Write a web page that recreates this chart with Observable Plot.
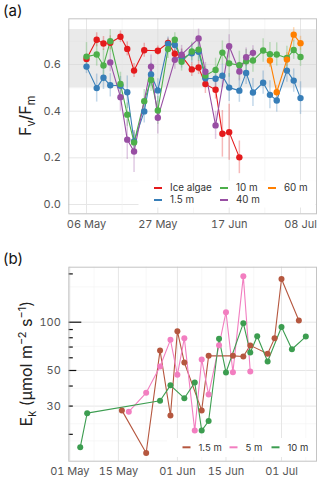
<!DOCTYPE html>
<html><head><meta charset="utf-8">
<script src="https://cdn.jsdelivr.net/npm/d3@7"></script>
<script src="https://cdn.jsdelivr.net/npm/@observablehq/plot@0.6"></script>
<style>
body{margin:0;background:#fff;font-family:Inter,"DejaVu Sans",sans-serif;}
#wrap{position:relative;width:320px;height:482px;overflow:hidden;background:#fff}
#pa,#pb{position:absolute;left:0}
#pa{top:0}#pb{top:240px}
.lab{position:absolute;left:3px;font-size:15px;color:#111;font-family:Inter,sans-serif}
</style></head><body>
<div id="wrap"><div id="pa"></div><div id="pb"></div>
<div class="lab" style="top:1px">(a)</div><div class="lab" style="top:249px">(b)</div></div>
<script>
// ---------- Panel (a): Fv/Fm ----------
const seriesA = ["Ice algae", "1.5 m", "10 m", "40 m", "60 m"];
const colorsA = ["#E41A1C", "#377EB8", "#4DAF4A", "#984EA3", "#FF7F00"];

const iceDates = ["2018-05-06","2018-05-09","2018-05-11","2018-05-13","2018-05-16","2018-05-18","2018-05-20","2018-05-23","2018-05-27","2018-05-30","2018-06-01","2018-06-03","2018-06-06","2018-06-08","2018-06-10","2018-06-13","2018-06-15","2018-06-17","2018-06-20"];
const iceFv = [0.624,0.706,0.690,0.693,0.719,0.667,0.574,0.661,0.659,0.693,0.646,0.637,0.579,0.587,0.516,0.492,0.303,0.310,0.202];
const iceErr = [0.02,0.03,0.03,0.03,0.025,0.03,0.03,0.03,0.02,0.02,0.03,0.03,0.03,0.03,0.04,0.04,0.10,0.12,0.07];

const m15Dates = ["2018-05-06","2018-05-09","2018-05-11","2018-05-13","2018-05-16","2018-05-18","2018-05-20","2018-05-23","2018-05-25","2018-05-27","2018-05-30","2018-06-01","2018-06-03","2018-06-06","2018-06-08","2018-06-10","2018-06-13","2018-06-15","2018-06-17","2018-06-20","2018-06-22","2018-06-24","2018-06-27","2018-06-29","2018-07-01","2018-07-04","2018-07-06","2018-07-08"];
const m15Fv = [0.591,0.499,0.543,0.511,0.509,0.481,0.270,0.399,0.557,0.489,0.688,0.684,0.625,0.648,0.655,0.541,0.539,0.552,0.501,0.488,0.564,0.480,0.522,0.470,0.446,0.574,0.531,0.456];
const m15Err = [0.03,0.06,0.05,0.05,0.04,0.07,0.04,0.05,0.05,0.05,0.03,0.03,0.04,0.04,0.04,0.04,0.05,0.05,0.06,0.05,0.05,0.06,0.05,0.06,0.05,0.05,0.05,0.07];

const m10Dates = m15Dates;
const m10Fv = [0.634,0.643,0.596,0.700,0.517,0.385,0.266,0.443,0.534,0.403,0.666,0.706,0.612,0.656,0.664,0.553,0.577,0.651,0.605,0.597,0.614,0.617,0.660,0.644,0.643,0.628,0.662,0.632];
const m10Err = [0.06,0.05,0.07,0.05,0.05,0.05,0.05,0.05,0.05,0.06,0.04,0.03,0.04,0.04,0.05,0.04,0.05,0.05,0.06,0.06,0.05,0.05,0.05,0.05,0.05,0.05,0.04,0.04];

const m40Dates = ["2018-05-13","2018-05-16","2018-05-18","2018-05-20","2018-05-25","2018-05-27","2018-06-01","2018-06-03","2018-06-08","2018-06-10","2018-06-13","2018-06-17","2018-06-20","2018-06-22","2018-06-24"];
const m40Fv = [0.609,0.460,0.278,0.227,0.591,0.372,0.620,0.642,0.712,0.569,0.339,0.678,0.570,0.631,0.650];
const m40Err = [0.04,0.06,0.085,0.09,0.05,0.07,0.04,0.04,0.04,0.04,0.06,0.05,0.04,0.04,0.03];

const m60Dates = ["2018-06-29","2018-07-01","2018-07-04","2018-07-06","2018-07-08"];
const m60Fv = [0.617,0.481,0.621,0.728,0.691];
const m60Err = [0.03,0.03,0.03,0.03,0.03];

const xTicksA = ["2018-05-06","2018-05-27","2018-06-17","2018-07-08"];
const xMinorA = ["2018-05-16T12:00Z","2018-06-06T12:00Z","2018-06-27T12:00Z"];
const yTicksA = [0.0, 0.2, 0.4, 0.6];
const yMinorA = [0.1, 0.3, 0.5, 0.7];
const bandA = [0.5, 0.75];
const xDomainA = ["2018-04-30T19:00Z", "2018-07-12T17:00Z"];
const yDomainA = [-0.04, 0.796];

// ---------- Panel (b): Ek ----------
const seriesB = ["1.5 m", "5 m", "10 m"];
const colorsB = ["#b5573f", "#f27ec0", "#3c9d50"];
const ek15Dates = ["2018-05-16","2018-05-23","2018-05-27","2018-05-30","2018-06-01","2018-06-03","2018-06-08","2018-06-10","2018-06-17","2018-06-20","2018-06-22","2018-06-27","2018-06-29","2018-07-01","2018-07-06"];
const ek15 = [28.2,15.3,66.7,26.2,87.9,56.1,28.2,61.7,61.7,61.1,71.7,63.6,79.3,186,102.5];
const ek5Dates = ["2018-05-18","2018-05-23","2018-05-27","2018-05-30","2018-06-01","2018-06-03","2018-06-06","2018-06-08","2018-06-10","2018-06-13","2018-06-15","2018-06-17","2018-06-20","2018-06-22"];
const ek5 = [27.7,36.3,52.9,77.6,47.0,79.5,21.1,58.6,35.4,71.8,115.4,48.8,193.6,49.3];
const ek10Dates = ["2018-05-04","2018-05-06","2018-05-27","2018-05-30","2018-06-03","2018-06-06","2018-06-08","2018-06-10","2018-06-13","2018-06-15","2018-06-20","2018-06-22","2018-06-24","2018-06-27","2018-07-01","2018-07-04","2018-07-08"];
const ek10 = [16.6,27.1,32.4,40.4,33.6,42.1,21.1,24.2,78.8,48.6,98.6,64.7,81.8,56.9,93.4,67.8,81.3];

const xTicksB = ["2018-05-01","2018-05-15","2018-06-01","2018-06-15","2018-07-01"];
const xMinorB = ["2018-05-08","2018-05-23","2018-06-08","2018-06-23","2018-07-08"];
const yTicksB = [30, 50, 100];
const yMinorB = [18.2, 23.3, 38.7, 70.7, 166];
const logShortB = [20, 30, 40, 60, 70, 80, 90, 200];
const logMidB = [50];
const logLongB = [100];
const xDomainB = ["2018-04-30T17:00Z", "2018-07-11T02:00Z"];
const yDomainB = [13.6, 220.2];

// ---------- build ----------
const FONT = "Inter, 'DejaVu Sans', sans-serif";
const parse = s => new Date(s.length === 10 ? s + "T00:00Z" : s);
const rows = (series, dates, vals, errs) => dates.map((d, i) => ({series, date: parse(d), v: vals[i], e: errs ? errs[i] : 0}));

const dataA = [
  ...rows(seriesA[0], iceDates, iceFv, iceErr),
  ...rows(seriesA[1], m15Dates, m15Fv, m15Err),
  ...rows(seriesA[2], m10Dates, m10Fv, m10Err),
  ...rows(seriesA[3], m40Dates, m40Fv, m40Err),
  ...rows(seriesA[4], m60Dates, m60Fv, m60Err)
];
const dataB = [
  ...rows(seriesB[0], ek15Dates, ek15),
  ...rows(seriesB[1], ek5Dates, ek5),
  ...rows(seriesB[2], ek10Dates, ek10)
];

const W = 320, ML = 68.3, MR = 4;
const plotW = W - ML - MR;
const fmtDate = d3.utcFormat("%d %b");

const plotA = Plot.plot({
  width: W, height: 240,
  marginLeft: ML, marginRight: MR, marginTop: 18.3, marginBottom: 26.7,
  style: {fontFamily: FONT, fontSize: "11px", color: "#555", background: "white"},
  x: {type: "utc", domain: xDomainA.map(parse), ticks: xTicksA.map(parse), tickFormat: fmtDate, tickSize: 0, tickPadding: 6, label: null},
  y: {domain: yDomainA, ticks: yTicksA, tickFormat: d3.format(".1f"), tickSize: 0, tickPadding: 8, label: null},
  color: {domain: seriesA, range: colorsA},
  marks: [
    Plot.ruleY(yMinorA, {stroke: "#f2f2f2", strokeWidth: 0.6}),
    Plot.ruleY(yTicksA, {stroke: "#e6e6e6", strokeWidth: 1}),
    Plot.ruleX(xMinorA.map(parse), {stroke: "#f2f2f2", strokeWidth: 0.6}),
    Plot.ruleX(xTicksA.map(parse), {stroke: "#e6e6e6", strokeWidth: 1}),
    Plot.rect([bandA], {x1: () => parse(xDomainA[0]), x2: () => parse(xDomainA[1]), y1: d => d[0], y2: d => d[1], fill: "#d6d6d6", fillOpacity: 0.5}),
    Plot.ruleX(dataA, {x: "date", y1: d => d.v - d.e, y2: d => d.v + d.e, stroke: "series", strokeOpacity: 0.3, strokeWidth: 1.5}),
    Plot.line(dataA, {x: "date", y: "v", z: "series", stroke: "series", strokeWidth: 1.1}),
    Plot.dot(dataA, {x: "date", y: "v", fill: "series", r: 3.2}),
    Plot.frame({stroke: "#c4c4c4", strokeWidth: 1})
  ]
});
document.getElementById("pa").appendChild(plotA);

const plotB = Plot.plot({
  width: W, height: 242,
  marginLeft: ML, marginRight: MR, marginTop: 26.7, marginBottom: 21.3,
  style: {fontFamily: FONT, fontSize: "11px", color: "#555", background: "white"},
  x: {type: "utc", domain: xDomainB.map(parse), ticks: xTicksB.map(parse), tickFormat: fmtDate, tickSize: 0, tickPadding: 6, label: null},
  y: {type: "log", domain: yDomainB, ticks: yTicksB, tickFormat: d3.format("d"), tickSize: 0, tickPadding: 8, label: null},
  color: {domain: seriesB, range: colorsB},
  marks: [
    Plot.ruleY(yMinorB, {stroke: "#f2f2f2", strokeWidth: 0.6}),
    Plot.ruleY(yTicksB, {stroke: "#e6e6e6", strokeWidth: 1}),
    Plot.ruleX(xMinorB.map(parse), {stroke: "#f2f2f2", strokeWidth: 0.6}),
    Plot.ruleX(xTicksB.map(parse), {stroke: "#e6e6e6", strokeWidth: 1}),
    Plot.line(dataB, {x: "date", y: "v", z: "series", stroke: "series", strokeWidth: 1.1}),
    Plot.dot(dataB, {x: "date", y: "v", fill: "series", r: 3}),
    Plot.tickY(logShortB, {stroke: "#111", strokeWidth: 1.2, insetRight: plotW - 4.5}),
    Plot.tickY(logMidB, {stroke: "#111", strokeWidth: 1.2, insetRight: plotW - 8}),
    Plot.tickY(logLongB, {stroke: "#111", strokeWidth: 1.2, insetRight: plotW - 13}),
    Plot.frame({stroke: "#c4c4c4", strokeWidth: 1})
  ]
});
document.getElementById("pb").appendChild(plotB);

// ---------- axis titles ----------
function title(svg, x, y, parts) {
  const t = d3.select(svg).append("text")
    .attr("transform", `translate(${x},${y}) rotate(-90)`)
    .attr("text-anchor", "middle").attr("font-family", FONT)
    .attr("font-size", 16).attr("fill", "#222");
  let shift = 0;
  parts.forEach(([txt, kind]) => {
    const target = kind === "sub" ? 4 : kind === "sup" ? -6 : 0;
    const s = t.append("tspan").attr("dy", target - shift).text(txt);
    if (kind) s.attr("font-size", 11);
    shift = target;
  });
}
title(plotA, 31, 115.8, [["F"], ["v", "sub"], ["/F"], ["m", "sub"]]);
title(plotB, 32, 123.7, [["E"], ["k", "sub"], [" (µmol m"], ["−2", "sup"], [" s"], ["−1", "sup"], [")"]]);

// ---------- legends ----------
function legend(svg, box, items, fs) {
  const g = d3.select(svg).append("g").attr("font-family", FONT).attr("font-size", fs)
    .attr("fill", "#333").attr("text-anchor", "start");
  g.append("rect").attr("x", box[0]).attr("y", box[1]).attr("width", box[2]).attr("height", box[3]).attr("fill", "white");
  items.forEach(it => {
    g.append("line").attr("x1", it.x).attr("x2", it.x + 8).attr("y1", it.y).attr("y2", it.y)
      .attr("stroke", it.c).attr("stroke-width", 2);
    g.append("text").attr("x", it.x + 16).attr("y", it.y).attr("dy", "0.35em")
      .attr("text-anchor", "start").text(it.name);
  });
}
legend(plotA, [138.5, 180.5, 177, 27], [
  {name: seriesA[0], c: colorsA[0], x: 154, y: 188},
  {name: seriesA[1], c: colorsA[1], x: 154, y: 200},
  {name: seriesA[2], c: colorsA[2], x: 220, y: 188},
  {name: seriesA[3], c: colorsA[3], x: 220, y: 200},
  {name: seriesA[4], c: colorsA[4], x: 268, y: 188}
], 9.8);
legend(plotB, [167, 198, 148.5, 19], [
  {name: seriesB[0], c: colorsB[0], x: 182.5, y: 207.3},
  {name: seriesB[1], c: colorsB[1], x: 229.5, y: 207.3},
  {name: seriesB[2], c: colorsB[2], x: 271.5, y: 207.3}
], 9.5);
</script>
</body></html>
